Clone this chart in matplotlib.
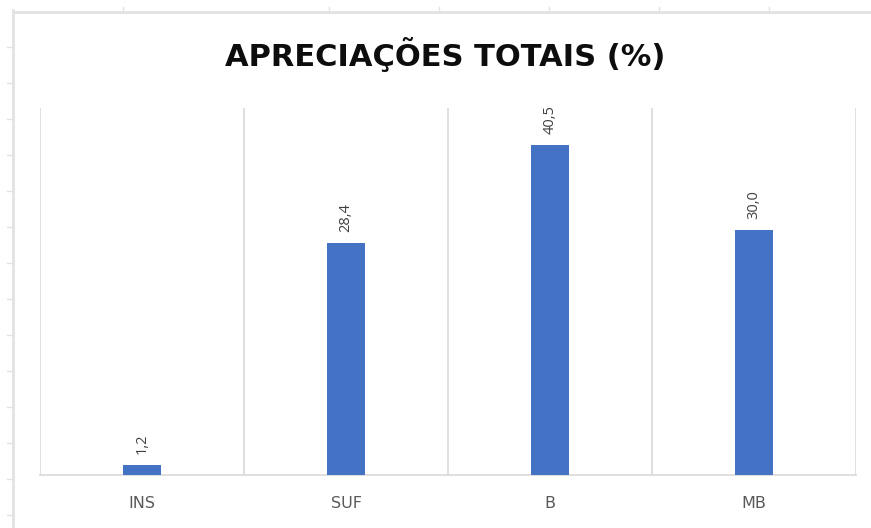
import matplotlib
matplotlib.use('Agg')
import matplotlib.pyplot as plt
from matplotlib.lines import Line2D

# DONNEES
categories = ['INS', 'SUF', 'B', 'MB']
valeurs = [1.2, 28.4, 40.5, 30.0]
etiquettes = [f'{v:.1f}'.replace('.', ',') for v in valeurs]

plt.rcParams['font.family'] = ['Open Sans', 'DejaVu Sans']

W, H = 871, 528
fig = plt.figure(figsize=(W / 100, H / 100), dpi=100)
fig.patch.set_facecolor('white')

# lignes du tableur autour du graphique
gris_tab = '#e2e2e2'
fig.add_artist(Line2D([13 / W, 1], [1 - 12 / H, 1 - 12 / H], color=gris_tab, lw=2))
fig.add_artist(Line2D([13 / W, 13 / W], [0, 1 - 10 / H], color=gris_tab, lw=2))
for y in range(47, H, 36):
    fig.add_artist(Line2D([7 / W, 13 / W], [1 - y / H, 1 - y / H], color=gris_tab, lw=1))
for x in [123, 329, 439, 549, 659, 769]:
    fig.add_artist(Line2D([x / W, x / W], [1 - 7 / H, 1 - 12 / H], color=gris_tab, lw=1))

# ZONE DU GRAPHIQUE
ax = fig.add_axes([40 / W, 53 / H, 816 / W, 367 / H])
x = range(len(categories))
barres = ax.bar(x, valeurs, width=0.186, color='#4472C4', zorder=3)
ax.bar_label(barres, labels=etiquettes, rotation=90, padding=8,
             fontsize=10.5, color='#404040')

ax.set_xlim(-0.5, len(categories) - 0.5)
ax.set_ylim(0, 45)
ax.set_xticks(list(x))
ax.set_xticklabels(categories, fontsize=11.5, color='#595959', family='DejaVu Sans')
ax.set_xticks([i - 0.5 for i in range(len(categories) + 1)], minor=True)
ax.tick_params(axis='x', which='both', length=0, pad=15)
ax.set_yticks([])
ax.grid(axis='x', which='minor', color='#d9d9d9', lw=1.2, zorder=0)
for s in ['top', 'left', 'right']:
    ax.spines[s].set_visible(False)
ax.spines['bottom'].set_color('#d9d9d9')
ax.spines['bottom'].set_linewidth(1.2)

fig.text(445 / W, 1 - 55 / H, 'APRECIAÇÕES TOTAIS (%)', ha='center', va='center',
         fontsize=22, fontweight='bold', color='#0d0d0d', family='DejaVu Sans')

fig.savefig('out.png', dpi=100)
